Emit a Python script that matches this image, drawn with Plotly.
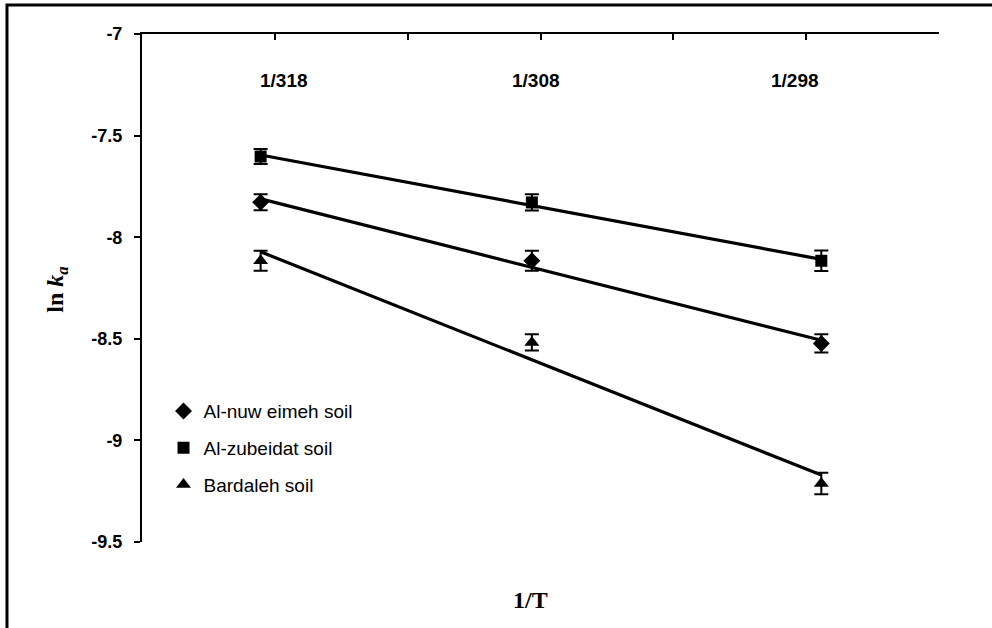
import numpy as np
import plotly.graph_objects as go

# ---- data ----
temps_K = [318, 308, 298]
x_labels = ["1/318", "1/308", "1/298"]
inv_T = [1.0 / t for t in temps_K]

series_names = ["Al-nuw eimeh soil", "Al-zubeidat soil", "Bardaleh soil"]
nuweimeh_ln_ka = [-7.828, -8.116, -8.523]
zubeidat_ln_ka = [-7.603, -7.829, -8.116]
bardaleh_ln_ka = [-8.116, -8.518, -9.212]
nuweimeh_err = [0.039, 0.049, 0.045]
zubeidat_err = [0.037, 0.040, 0.050]
bardaleh_err = [0.049, 0.040, 0.053]

y_tick_vals = [-7, -7.5, -8, -8.5, -9, -9.5]
y_tick_text = ["-7", "-7.5", "-8", "-8.5", "-9", "-9.5"]

series = [
    (series_names[0], nuweimeh_ln_ka, nuweimeh_err, "diamond", 13),
    (series_names[1], zubeidat_ln_ka, zubeidat_err, "square", 12),
    (series_names[2], bardaleh_ln_ka, bardaleh_err, "triangle-up", 13),
]

fig = go.Figure()

# trend lines (linear least squares from the data)
for name, ys, errs, sym, sz in series:
    m, b = np.polyfit(inv_T, ys, 1)
    xs = [min(inv_T), max(inv_T)]
    fig.add_trace(go.Scatter(
        x=xs, y=[m * v + b for v in xs], mode="lines",
        line=dict(color="black", width=3.2), showlegend=False, hoverinfo="skip"))

for i, (name, ys, errs, sym, sz) in enumerate(series):
    fig.add_trace(go.Scatter(
        x=inv_T, y=ys, mode="markers", name=name, legendgroup=f"g{i}",
        marker=dict(symbol=sym, size=sz, color="black"),
        error_y=dict(type="data", array=errs, visible=True,
                     color="black", thickness=2, width=7)))

annotations = []
shifts = [23, 4, -26]
for xv, lab, sh in zip(inv_T, x_labels, shifts):
    annotations.append(dict(
        x=xv, y=0.909, xref="x", yref="paper", text=f"<b>{lab}</b>",
        showarrow=False, xshift=sh, yanchor="middle",
        font=dict(family="Arial, Liberation Sans", size=19, color="black")))

annotations.append(dict(
    x=-0.107, y=0.496, xref="paper", yref="paper", xanchor="center", yanchor="middle",
    text="<b>ln <i>k</i><sub><i>a</i></sub></b>", textangle=-90, showarrow=False,
    font=dict(family="Times New Roman, Liberation Serif", size=24, color="black")))
annotations.append(dict(
    x=0.488, y=-0.114, xref="paper", yref="paper", xanchor="center", yanchor="middle",
    text="<b>1/T</b>", showarrow=False,
    font=dict(family="Times New Roman, Liberation Serif", size=24, color="black")))

fig.update_layout(
    width=992, height=628,
    margin=dict(l=142, r=53, t=34, b=86),
    paper_bgcolor="white", plot_bgcolor="white",
    showlegend=True,
    legend=dict(x=0.027, y=0.295, xanchor="left", yanchor="top",
                font=dict(family="Arial, Liberation Sans", size=19, color="black"),
                bgcolor="rgba(0,0,0,0)", tracegroupgap=9, itemwidth=30),
    annotations=annotations,
    shapes=[dict(type="rect", xref="paper", yref="paper",
                 x0=-0.1694, y0=-0.4, x1=1.3, y1=1.0571,
                 line=dict(color="black", width=3))],
)

fig.update_xaxes(
    range=[0.0031, 0.0034], side="top", showgrid=False, zeroline=False,
    tickmode="linear", tick0=0.0031, dtick=0.00005,
    ticks="inside", ticklen=6, tickwidth=1.5, tickcolor="black",
    showticklabels=False, showline=True, linecolor="black", linewidth=2)

fig.update_yaxes(
    range=[-9.5, -7], showgrid=False, zeroline=False,
    tickmode="array", tickvals=y_tick_vals, ticktext=y_tick_text,
    ticks="outside", ticklen=6, tickwidth=1.5, tickcolor="black",
    ticklabelstandoff=8,
    tickfont=dict(family="Arial, Liberation Sans", size=18, color="black", weight="bold"),
    showline=True, linecolor="black", linewidth=2)

fig.write_html("out.html")
